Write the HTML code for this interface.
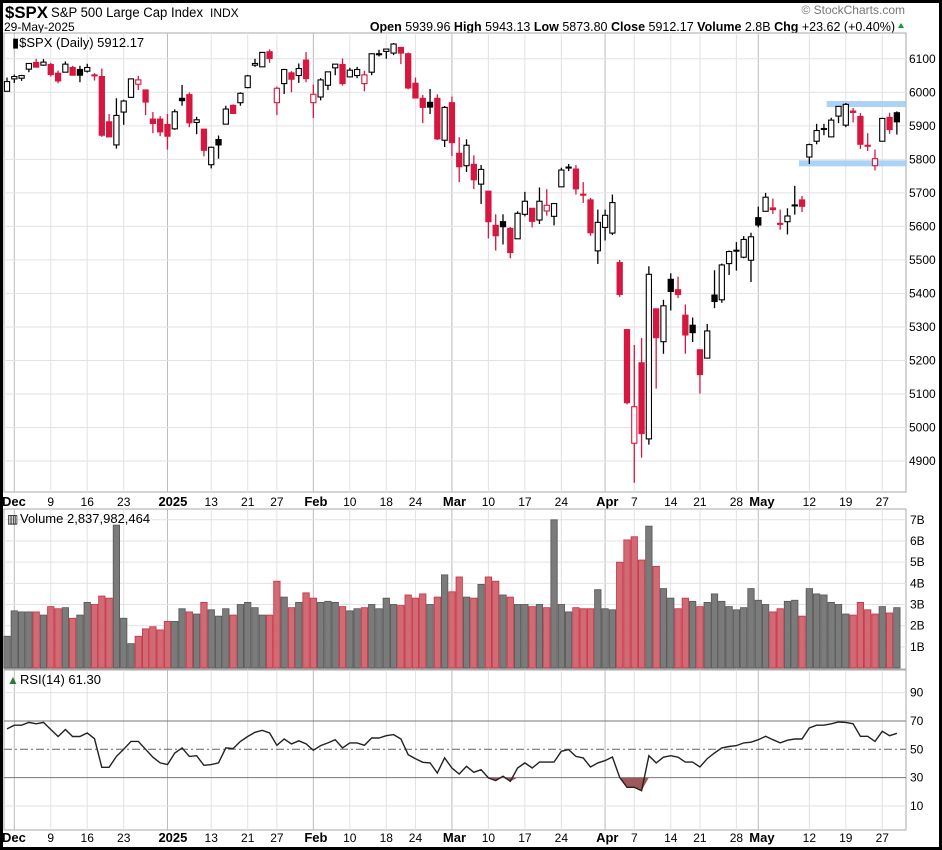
<!DOCTYPE html>
<html><head><meta charset="utf-8"><style>
html,body{margin:0;padding:0;background:#fff;}
body{width:942px;height:850px;overflow:hidden;font-family:"Liberation Sans",sans-serif;}
svg{display:block;}
</style></head><body>
<svg id="chart" width="942" height="850" xmlns="http://www.w3.org/2000/svg" font-family="Liberation Sans, sans-serif">
<rect x="0" y="0" width="942" height="850" fill="#fff"/>
<g>
<text x="5" y="18" font-size="17" font-weight="bold" textLength="43" lengthAdjust="spacingAndGlyphs">$SPX</text>
<text x="51" y="17" font-size="13.5" textLength="152" lengthAdjust="spacingAndGlyphs">S&amp;P 500 Large Cap Index</text>
<text x="210" y="17" font-size="12">INDX</text>
<text x="4" y="31" font-size="12">29-May-2025</text>
<text x="905" y="14" font-size="12" fill="#777" text-anchor="end">© StockCharts.com</text>
<text x="895" y="31" font-size="12.5" text-anchor="end"><tspan font-weight="bold">Open</tspan> 5939.96 <tspan font-weight="bold">High</tspan> 5943.13 <tspan font-weight="bold">Low</tspan> 5873.80 <tspan font-weight="bold">Close</tspan> 5912.17 <tspan font-weight="bold">Volume</tspan> 2.8B <tspan font-weight="bold">Chg</tspan> +23.62 (+0.40%)</text>
<path d="M898 28 L904 28 L901 23 Z" fill="#1a9a3a"/>
</g>
<g id="grid"></g>
<g id="price"></g>
<g id="vol"></g>
<g id="rsi"></g>
<g id="axes"></g>
<rect x="1.5" y="1.5" width="939" height="847" fill="none" stroke="#000" stroke-width="3"/>
</svg>
<script>
const dates=["Nov29","Dec2","Dec3","Dec4","Dec5","Dec6","Dec9","Dec10","Dec11","Dec12","Dec13","Dec16","Dec17","Dec18","Dec19","Dec20","Dec23","Dec24","Dec26","Dec27","Dec30","Dec31","Jan2","Jan3","Jan6","Jan7","Jan8","Jan10","Jan13","Jan14","Jan15","Jan16","Jan17","Jan21","Jan22","Jan23","Jan24","Jan27","Jan28","Jan29","Jan30","Jan31","Feb3","Feb4","Feb5","Feb6","Feb7","Feb10","Feb11","Feb12","Feb13","Feb14","Feb18","Feb19","Feb20","Feb21","Feb24","Feb25","Feb26","Feb27","Feb28","Mar3","Mar4","Mar5","Mar6","Mar7","Mar10","Mar11","Mar12","Mar13","Mar14","Mar17","Mar18","Mar19","Mar20","Mar21","Mar24","Mar25","Mar26","Mar27","Mar28","Mar31","Apr1","Apr2","Apr3","Apr4","Apr7","Apr8","Apr9","Apr10","Apr11","Apr14","Apr15","Apr16","Apr17","Apr21","Apr22","Apr23","Apr24","Apr25","Apr28","Apr29","Apr30","May1","May2","May5","May6","May7","May8","May9","May12","May13","May14","May15","May16","May19","May20","May21","May22","May23","May27","May28","May29"];
const opens=[6003,6040,6042,6069,6089,6081,6083,6057,6060,6074,6068,6063,6052,6047,5912,5843,5941,5985,6024,6007,5920,5920,5904,5891,5982,5993,5910,5890,5784,5859,5905,5961,5969,6014,6081,6076,6121,5969,6026,6058,6050,6096,5969,5986,6021,6073,6083,6046,6050,6026,6060,6115,6122,6117,6134,6115,6027,5982,5970,5982,5857,5969,5818,5781,5785,5726,5705,5603,5614,5594,5563,5636,5654,5619,5646,5630,5718,5775,5771,5696,5679,5527,5597,5580,5492,5292,4953,5193,4966,5354,5256,5442,5411,5335,5305,5232,5207,5395,5381,5489,5529,5508,5499,5626,5645,5655,5609,5614,5663,5679,5807,5854,5891,5867,5929,5902,5944,5928,5841,5781,5854,5925,5939];
const highs=[6044,6053,6052,6087,6100,6099,6088,6065,6092,6079,6079,6085,6057,6071,5935,5982,5978,6040,6049,6007,5941,5929,5935,5949,6022,6000,5927,5890,5838,5871,5960,5964,6000,6052,6100,6119,6128,6017,6070,6063,6086,6120,6023,6042,6062,6084,6101,6073,6076,6064,6116,6127,6129,6147,6134,6119,6044,5992,6010,5994,5959,5987,5866,5860,5812,5783,5705,5636,5636,5598,5645,5703,5654,5716,5711,5670,5775,5786,5783,5732,5685,5650,5650,5695,5500,5293,5246,5267,5481,5354,5381,5460,5450,5367,5328,5232,5309,5469,5489,5528,5553,5571,5581,5659,5700,5683,5650,5654,5721,5691,5847,5906,5906,5924,5958,5968,5953,5938,5878,5829,5924,5939,5943];
const lows=[6003,6028,6034,6060,6075,6079,6047,6027,6060,6051,6030,6059,6035,5867,5867,5832,5903,5983,6007,5932,5878,5869,5829,5888,5960,5896,5875,5809,5773,5802,5905,5936,5960,6012,6076,6075,6088,5932,5995,6000,6028,6030,5923,5976,6007,6051,6020,6045,6042,6003,6051,6107,6100,6111,6084,6009,5982,5908,5935,5858,5837,5810,5732,5762,5711,5667,5564,5528,5546,5505,5563,5630,5597,5607,5632,5603,5718,5765,5695,5670,5572,5488,5558,5574,5390,5069,4835,4910,4949,5116,5220,5349,5386,5220,5255,5101,5207,5356,5372,5455,5468,5505,5434,5597,5644,5637,5590,5576,5635,5643,5786,5845,5872,5867,5908,5896,5910,5831,5825,5767,5854,5876,5874];
const closes=[6032,6047,6050,6086,6075,6090,6053,6034,6084,6051,6051,6074,6050,5872,5867,5931,5974,6040,6037,5971,5907,5882,5869,5942,5975,5909,5918,5827,5836,5843,5950,5937,5997,6049,6086,6119,6101,6012,6068,6039,6071,6041,5994,6037,6061,6084,6026,6066,6068,6052,6115,6115,6129,6144,6117,6013,5983,5955,5956,5861,5955,5850,5778,5842,5739,5770,5614,5572,5599,5522,5639,5675,5615,5675,5663,5668,5768,5777,5712,5693,5581,5612,5633,5671,5397,5074,5062,4982,5457,5268,5363,5406,5397,5276,5283,5158,5288,5376,5485,5525,5529,5561,5569,5604,5687,5650,5607,5631,5664,5660,5844,5886,5892,5917,5958,5964,5940,5845,5842,5802,5922,5889,5912];
const volumes=[1.5,2.7,2.65,2.65,2.65,2.5,2.9,2.8,2.85,2.35,2.5,3.1,3.0,3.4,3.3,6.75,2.35,1.15,1.5,1.85,1.95,1.8,2.2,2.2,2.8,2.65,2.55,3.1,2.75,2.45,2.8,2.5,3.0,3.1,2.85,2.5,2.5,4.1,3.35,2.85,3.1,3.55,3.3,3.1,3.15,3.1,2.9,2.7,2.8,2.85,3.0,2.8,3.3,3.0,2.95,3.45,3.3,3.5,3.0,3.35,4.4,3.6,4.3,3.35,3.3,3.95,4.3,4.1,3.45,3.35,3.0,3.0,2.9,3.0,2.85,7.0,3.0,2.65,2.85,2.8,2.8,3.7,2.8,2.75,5.0,6.05,6.2,5.1,6.7,4.8,3.75,3.3,2.8,3.3,3.15,2.9,3.1,3.5,3.15,2.9,2.75,2.85,3.75,3.2,3.0,2.65,2.8,3.15,3.2,2.45,3.75,3.5,3.45,3.1,3.0,2.55,2.5,3.1,2.75,2.55,2.9,2.6,2.85];
const rsiValues=[64.4,67,67,69,68,69,64,59,64,59,59,61.5,57.5,37.3,37.3,45,50,55.6,55.6,50,44.4,40.4,39.2,47.4,51,45,45.5,38.7,39.2,40.4,51,50.5,55.6,59,62,63.4,61.5,52.8,57.3,53.8,56,53.8,49.3,52.6,54.5,56.8,51,54.5,54.5,52.8,58,58,59.6,60.4,57.3,46.2,43.4,40.8,40.4,33.3,43.9,36.8,32.6,38,33.8,35.6,29.8,27.9,31,27.4,36.8,40.4,36.8,41,41,41,48.6,49.8,45,43.9,37.5,40.4,42,44.6,30.2,23.2,23.2,20.8,45.5,40.4,44.4,45.5,44.4,41,41,37.5,43.4,47.4,51,52,52.6,54.5,55,56.8,59.2,56.8,54.5,56.4,57.3,57.3,65,67,67,68,69.3,69,68,59.2,59.2,55.6,62.7,59.6,61.3];
const tickIdx=[1,6,11,16,22,28,33,37,42,47,52,56,61,66,71,76,82,86,91,95,100,103,110,115,120];
const tickLabels=["Dec","9","16","23","2025","13","21","27","Feb","10","18","24","Mar","10","17","24","Apr","7","14","21","28","May","12","19","27"];
const monthTick=[true,false,false,false,true,false,false,false,true,false,false,false,true,false,false,false,true,false,false,false,false,true,false,false,false];
const priceTicks=[4900,5000,5100,5200,5300,5400,5500,5600,5700,5800,5900,6000,6100];
const volTicks=[1,2,3,4,5,6,7];
const rsiTicks=[10,30,50,70,90];
const bandPrices=[5965,5788];

const NS="http://www.w3.org/2000/svg";
const L=4,R=906;
const PT=33,PB=492,VT=509,VB=669,RT=670,RB=830;
const x=i=>7+i*7.294;
const yP=p=>92.3+(6000-p)*0.3352;
const yV=v=>668-v*21.17;
const yR=r=>749.3+(50-r)*1.417;
function el(tag,attrs,parent){const e=document.createElementNS(NS,tag);for(const k in attrs)e.setAttribute(k,attrs[k]);parent.appendChild(e);return e;}
const grid=document.getElementById('grid'),price=document.getElementById('price'),vol=document.getElementById('vol'),rsi=document.getElementById('rsi'),axes=document.getElementById('axes');

[[PT,PB,'price-panel'],[VT,VB,'volume-panel'],[RT,RB,'rsi-panel']].forEach(([t,b,n])=>{
  const r=el('rect',{x:L,y:t,width:R-L,height:b-t,fill:'#fff',stroke:'#aaa','stroke-width':1},grid);
  
  
});
tickIdx.forEach((ti,k)=>{
  [[PT,PB],[VT,VB],[RT,RB]].forEach(([t,b])=>{
    const ln=el('line',{x1:x(ti),x2:x(ti),y1:t,y2:b,stroke:monthTick[k]?'#bbb':'#e2e2e2','stroke-width':1},grid);
    
    
  });
  [[506,'x-tick-label-top'],[842,'x-tick-label-bottom']].forEach(([yy,nm])=>{
    const t=el('text',{x:x(ti)-(monthTick[k]?9:0),y:yy,'font-size':monthTick[k]?13:12,'font-weight':monthTick[k]?'bold':'normal','text-anchor':monthTick[k]?'start':'middle'},axes);
    if(ti===1){t.setAttribute('x',2);}
    t.textContent=tickLabels[k];
    
    
  });
});
priceTicks.forEach(p=>{
  const ln=el('line',{x1:L,x2:R,y1:yP(p),y2:yP(p),stroke:'#e2e2e2'},grid);
  
  
  const t=el('text',{x:909,y:yP(p)+4,'font-size':12},axes);
  t.textContent=p;
  
  
});
[[826.7,bandPrices[0]],[799,bandPrices[1]]].forEach(([bx,bp],k)=>{
  const b=el('rect',{x:bx,y:yP(bp)-3,width:R-bx,height:6,fill:'#9ccbf5',opacity:0.85},price);
  
  
});
for(let i=0;i<closes.length;i++){
  const down=i>0&&closes[i]<closes[i-1];
  const col=down?'#d6173f':'#000';
  const g=el('g',{},price);
  
  
  el('line',{x1:x(i),x2:x(i),y1:yP(highs[i]),y2:yP(lows[i]),stroke:col,'stroke-width':1.3},g);
  const top=yP(Math.max(opens[i],closes[i])),bot=yP(Math.min(opens[i],closes[i]));
  const h=Math.max(bot-top,1);
  el('rect',{x:x(i)-2.6,y:top,width:5.2,height:h,fill:closes[i]<opens[i]?col:'#fff',stroke:col,'stroke-width':1.1},g);
}
const pl=el('text',{x:12,y:47,'font-size':13},axes);
pl.textContent='▮$SPX (Daily) 5912.17';



volTicks.forEach(v=>{
  const ln=el('line',{x1:L,x2:R,y1:yV(v),y2:yV(v),stroke:'#e2e2e2'},grid);
  
  
  const t=el('text',{x:910,y:yV(v)+4,'font-size':12},axes);
  t.textContent=v+'B';
  
  
});
for(let i=0;i<volumes.length;i++){
  const down=i>0&&closes[i]<closes[i-1];
  const b=el('rect',{x:x(i)-3.2,y:yV(volumes[i]),width:6.4,height:668-yV(volumes[i]),fill:down?'#d06a75':'#7b7b7b',stroke:down?'#c9303f':'#555','stroke-width':0.8},vol);
  
  
}
const vl=el('text',{x:20,y:523,'font-size':13},axes);
vl.textContent='Volume 2,837,982,464';


const vi=el('text',{x:7,y:523,'font-size':12},axes);
vi.textContent='▥';



rsiTicks.forEach(r=>{
  const ln=el('line',{x1:L,x2:R,y1:yR(r),y2:yR(r),stroke:(r===30||r===70)?'#777':(r===50?'#666':'#e2e2e2'),'stroke-dasharray':r===50?'8,3,2,3':'none','stroke-width':1},grid);
  
  
  const t=el('text',{x:910,y:yR(r)+4,'font-size':12},axes);
  t.textContent=r;
  
  
});
let fp='';
for(let i=0;i<rsiValues.length;i++){ if(rsiValues[i]<30||(i>0&&rsiValues[i-1]<30)||(i<rsiValues.length-1&&rsiValues[i+1]<30)) fp+=(fp?'L':'M')+x(i)+' '+yR(Math.min(rsiValues[i],30))+' '; else if(fp){fp+='Z ';const f=el('path',{d:fp,fill:'#a0585a'},rsi);fp='';} }
let d='';
rsiValues.forEach((r,i)=>{d+=(i?'L':'M')+x(i).toFixed(1)+' '+yR(r).toFixed(1)+' ';});
const rl=el('path',{d:d,fill:'none',stroke:'#222','stroke-width':1.4},rsi);


const rt=el('text',{x:20,y:684,'font-size':13},axes);
rt.textContent='RSI(14) 61.30';


const ri=el('text',{x:7,y:684,'font-size':12,fill:'#2a7a3a'},axes);
ri.textContent='▲';


</script>
</body></html>
